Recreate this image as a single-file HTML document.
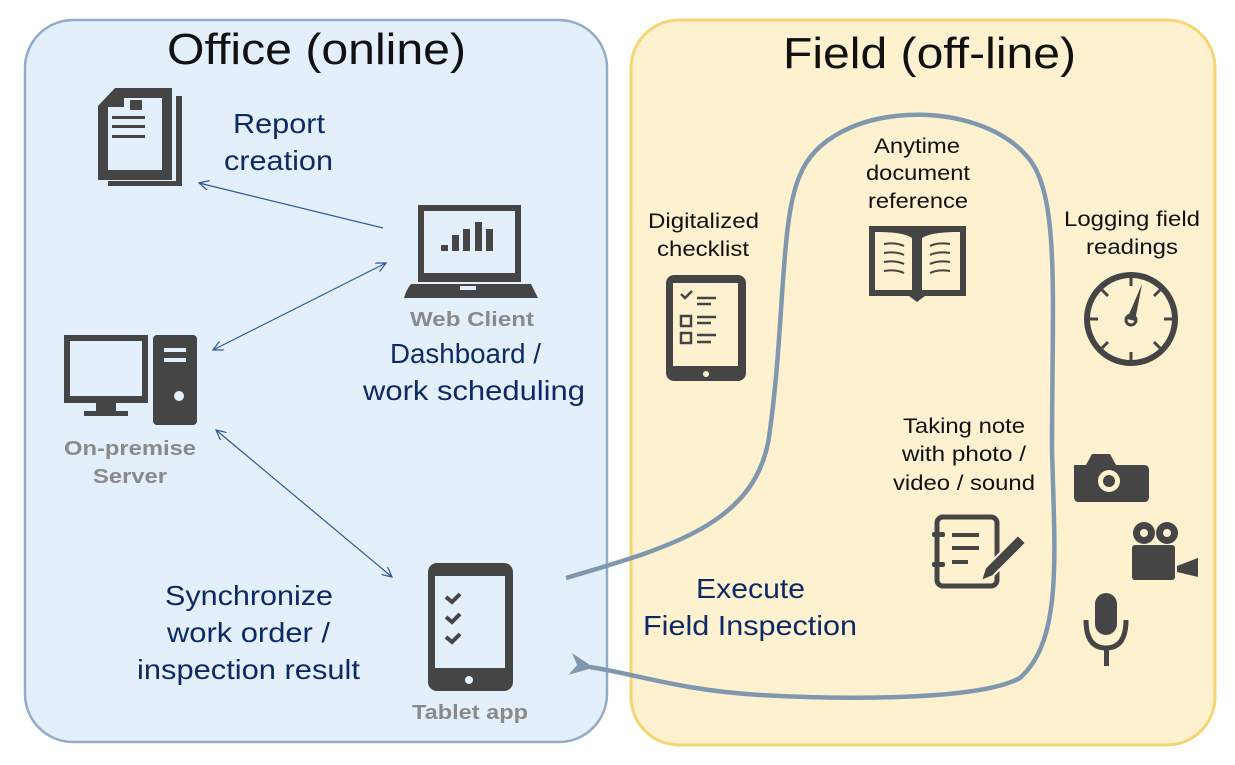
<!DOCTYPE html>
<html><head><meta charset="utf-8"><style>
body{margin:0;background:#fff;width:1235px;height:760px;overflow:hidden}
svg text{font-family:"Liberation Sans",Arial,sans-serif}
</style></head><body>
<svg width="1235" height="760" viewBox="0 0 1235 760" xmlns="http://www.w3.org/2000/svg">
<defs>
<marker id="a" markerWidth="12" markerHeight="10" refX="10" refY="5" orient="auto-start-reverse" markerUnits="userSpaceOnUse"><path d="M0,0 L10,5 L0,10" fill="none" stroke="#2f5597" stroke-width="1.2"/></marker>
<marker id="b" markerWidth="26" markerHeight="22" refX="4" refY="11" orient="auto" markerUnits="userSpaceOnUse"><path d="M24,0 L0,11 L24,22 L17,11 Z" fill="#7f98ae"/></marker>
</defs>
<rect x="25" y="20" width="582" height="722" rx="48" fill="#e3f0fb" stroke="#93abc6" stroke-width="2.5"/>
<rect x="631" y="20" width="584" height="725" rx="48" fill="#fdf1d0" stroke="#f6d574" stroke-width="3"/>
<g lengthAdjust="spacingAndGlyphs">
<text x="167" y="64" font-size="44" textLength="299" lengthAdjust="spacingAndGlyphs" fill="#111">Office (online)</text>
<text x="783" y="68" font-size="44" textLength="293" lengthAdjust="spacingAndGlyphs" fill="#111">Field (off-line)</text>
<g fill="#0e2a66" font-size="28">
<text x="233" y="133" textLength="92" lengthAdjust="spacingAndGlyphs">Report</text><text x="224" y="170" textLength="109" lengthAdjust="spacingAndGlyphs">creation</text>
<text x="390" y="363" textLength="151" lengthAdjust="spacingAndGlyphs">Dashboard /</text><text x="363" y="400" textLength="222" lengthAdjust="spacingAndGlyphs">work scheduling</text>
<text x="165" y="605" textLength="168" lengthAdjust="spacingAndGlyphs">Synchronize</text><text x="167" y="642" textLength="163" lengthAdjust="spacingAndGlyphs">work order /</text><text x="137" y="679" textLength="223" lengthAdjust="spacingAndGlyphs">inspection result</text>
<text x="696" y="598" textLength="109" lengthAdjust="spacingAndGlyphs">Execute</text><text x="643" y="635" textLength="214" lengthAdjust="spacingAndGlyphs">Field Inspection</text>
</g>
<g fill="#8a8a8a" font-size="20" font-weight="bold">
<text x="410" y="326" textLength="124" lengthAdjust="spacingAndGlyphs">Web Client</text>
<text x="64" y="455" textLength="132" lengthAdjust="spacingAndGlyphs">On-premise</text><text x="93" y="483" textLength="74" lengthAdjust="spacingAndGlyphs">Server</text>
<text x="412" y="719" textLength="116" lengthAdjust="spacingAndGlyphs">Tablet app</text>
</g>
<g fill="#111" font-size="21">
<text x="648" y="228" textLength="111" lengthAdjust="spacingAndGlyphs">Digitalized</text><text x="657" y="256" textLength="92" lengthAdjust="spacingAndGlyphs">checklist</text>
<text x="874" y="153" textLength="86" lengthAdjust="spacingAndGlyphs">Anytime</text><text x="866" y="180" textLength="104" lengthAdjust="spacingAndGlyphs">document</text><text x="868" y="208" textLength="100" lengthAdjust="spacingAndGlyphs">reference</text>
<text x="1064" y="226" textLength="136" lengthAdjust="spacingAndGlyphs">Logging field</text><text x="1086" y="254" textLength="92" lengthAdjust="spacingAndGlyphs">readings</text>
<text x="903" y="433" textLength="122" lengthAdjust="spacingAndGlyphs">Taking note</text><text x="902" y="461" textLength="124" lengthAdjust="spacingAndGlyphs">with photo /</text><text x="893" y="490" textLength="142" lengthAdjust="spacingAndGlyphs">video / sound</text>
</g>
</g>
<g stroke="#2f5597" stroke-width="1.2" fill="none">
<line x1="383" y1="228" x2="199" y2="183" marker-end="url(#a)"/>
<line x1="213" y1="350" x2="386" y2="263" marker-start="url(#a)" marker-end="url(#a)"/>
<line x1="216" y1="430" x2="392" y2="577" marker-start="url(#a)" marker-end="url(#a)"/>
</g>
<path d="M566,578 C680,545 760,520 770,430 C785,320 780,220 800,175 C830,100 980,95 1030,160 C1060,200 1052,300 1052,450 C1055,560 1062,640 1020,678 C980,700 850,700 760,695 C680,690 640,675 590,667" fill="none" stroke="#7f98ae" stroke-width="4.5" marker-end="url(#b)"/>
<g fill="#454545">
<path d="M115,88 L172,88 L172,180 L98,180 L98,106 Z M108,107 L108,170 L162,170 L162,98 L124,98 L124,107 Z" fill-rule="evenodd"/>
<path d="M176,96 L182,96 L182,186 L108,186 L108,181 L176,181 Z"/>
<rect x="130" y="100" width="12" height="10"/>
<rect x="112" y="116" width="33" height="3"/><rect x="112" y="125" width="33" height="3"/><rect x="112" y="135" width="33" height="3"/>
<path d="M418,205 L521,205 L521,282 L418,282 Z M424,211 L424,273 L515,273 L515,211 Z" fill-rule="evenodd"/>
<path d="M411,284 L531,284 L538,298 L404,298 Q406,290 411,284 Z"/>
<rect x="460" y="286" width="16" height="4" fill="#e3f0fb"/>
<rect x="441" y="245" width="7" height="6"/><rect x="452" y="235" width="7" height="16"/><rect x="463" y="229" width="7" height="22"/><rect x="475" y="222" width="7" height="29"/><rect x="486" y="229" width="7" height="22"/>
<path d="M64,335 L148,335 L148,403 L64,403 Z M70,341 L70,396 L142,396 L142,341 Z" fill-rule="evenodd"/>
<rect x="96" y="403" width="20" height="9"/><rect x="84" y="411" width="44" height="5"/>
<rect x="153" y="335" width="44" height="90" rx="4"/>
<g fill="#e3f0fb"><rect x="164" y="348" width="22" height="4"/><rect x="164" y="358" width="22" height="4"/><circle cx="179" cy="396" r="5"/></g>
<rect x="428" y="563" width="85" height="128" rx="9"/>
<rect x="435" y="576" width="70" height="92" fill="#e3f0fb"/>
<circle cx="469" cy="680" r="4" fill="#e3f0fb"/>
<g stroke="#454545" stroke-width="4" fill="none"><path d="M446,597 l6,5 l8,-8"/><path d="M446,617 l6,5 l8,-8"/><path d="M446,637 l6,5 l8,-8"/></g>
</g>
<g fill="#454545">
<rect x="666" y="275" width="80" height="106" rx="8"/>
<rect x="673" y="283" width="65" height="83" fill="#fdf1d0"/>
<circle cx="706" cy="374" r="3" fill="#fdf1d0"/>
<g stroke="#454545" stroke-width="2.5" fill="none"><path d="M681,294 l4,4 l7,-7"/><rect x="681" y="316" width="10" height="10"/><rect x="681" y="333" width="10" height="10"/>
<path d="M697,298 h19 M697,304 h14 M697,317 h19 M697,323 h14 M697,335 h19 M697,342 h14"/></g>
<path d="M869,226 L966,226 L966,296 L925,296 L917,302 L909,296 L869,296 Z M875,232 L875,290 L912,290 L912,238 C905,233 890,232 875,232 Z M922,238 L922,290 L960,290 L960,232 C945,232 930,233 922,238 Z" fill-rule="evenodd"/>
<g stroke="#454545" stroke-width="2" fill="none"><path d="M884,244 q12,-2 20,2 M884,253 q12,-2 20,2 M884,262 q12,-2 20,2 M884,271 q12,-2 20,2 M930,246 q8,-4 20,-2 M930,255 q8,-4 20,-2 M930,264 q8,-4 20,-2 M930,273 q8,-4 20,-2"/></g>
<circle cx="1131" cy="319" r="44" fill="none" stroke="#454545" stroke-width="6"/>
<g stroke="#454545" stroke-width="3"><path d="M1131,278 v8 M1131,352 v8 M1090,319 h8 M1164,319 h8 M1102,290 l6,6 M1154,342 l6,6 M1160,290 l-6,6 M1102,348 l6,-6"/></g>
<path d="M1127,319 L1142,284 L1135,321 Z"/><circle cx="1131" cy="320" r="5" fill="none" stroke="#454545" stroke-width="3"/>
<rect x="937" y="517" width="60" height="69" rx="6" fill="none" stroke="#454545" stroke-width="5"/>
<rect x="932" y="532" width="13" height="5" rx="2"/><rect x="932" y="562" width="13" height="5" rx="2"/>
<rect x="952" y="533" width="27" height="4"/><rect x="952" y="546" width="27" height="4"/><rect x="952" y="560" width="16" height="4"/>
<path d="M1018,535 L1026,543 L993,576 L981,581 L985,568 Z" stroke="#fdf1d0" stroke-width="2"/>
<path d="M1074,465 L1086,465 L1092,454 L1110,454 L1116,465 L1144,465 Q1149,465 1149,470 L1149,497 Q1149,502 1144,502 L1079,502 Q1074,502 1074,497 Z"/>
<circle cx="1109" cy="481" r="11" fill="#fdf1d0"/><circle cx="1109" cy="481" r="6"/>
<circle cx="1144" cy="533" r="11"/><circle cx="1167" cy="533" r="11"/>
<circle cx="1144" cy="533" r="4" fill="#fdf1d0"/><circle cx="1167" cy="533" r="4" fill="#fdf1d0"/>
<rect x="1132" y="545" width="43" height="35" rx="3"/><path d="M1177,566 L1198,558 L1198,577 L1177,572 Z"/>
<rect x="1095" y="593" width="22" height="42" rx="11"/>
<path d="M1086,620 q0,28 20,28 q20,0 20,-28" fill="none" stroke="#454545" stroke-width="5"/>
<rect x="1104" y="646" width="5" height="20"/>
</g>
</svg>
</body></html>
